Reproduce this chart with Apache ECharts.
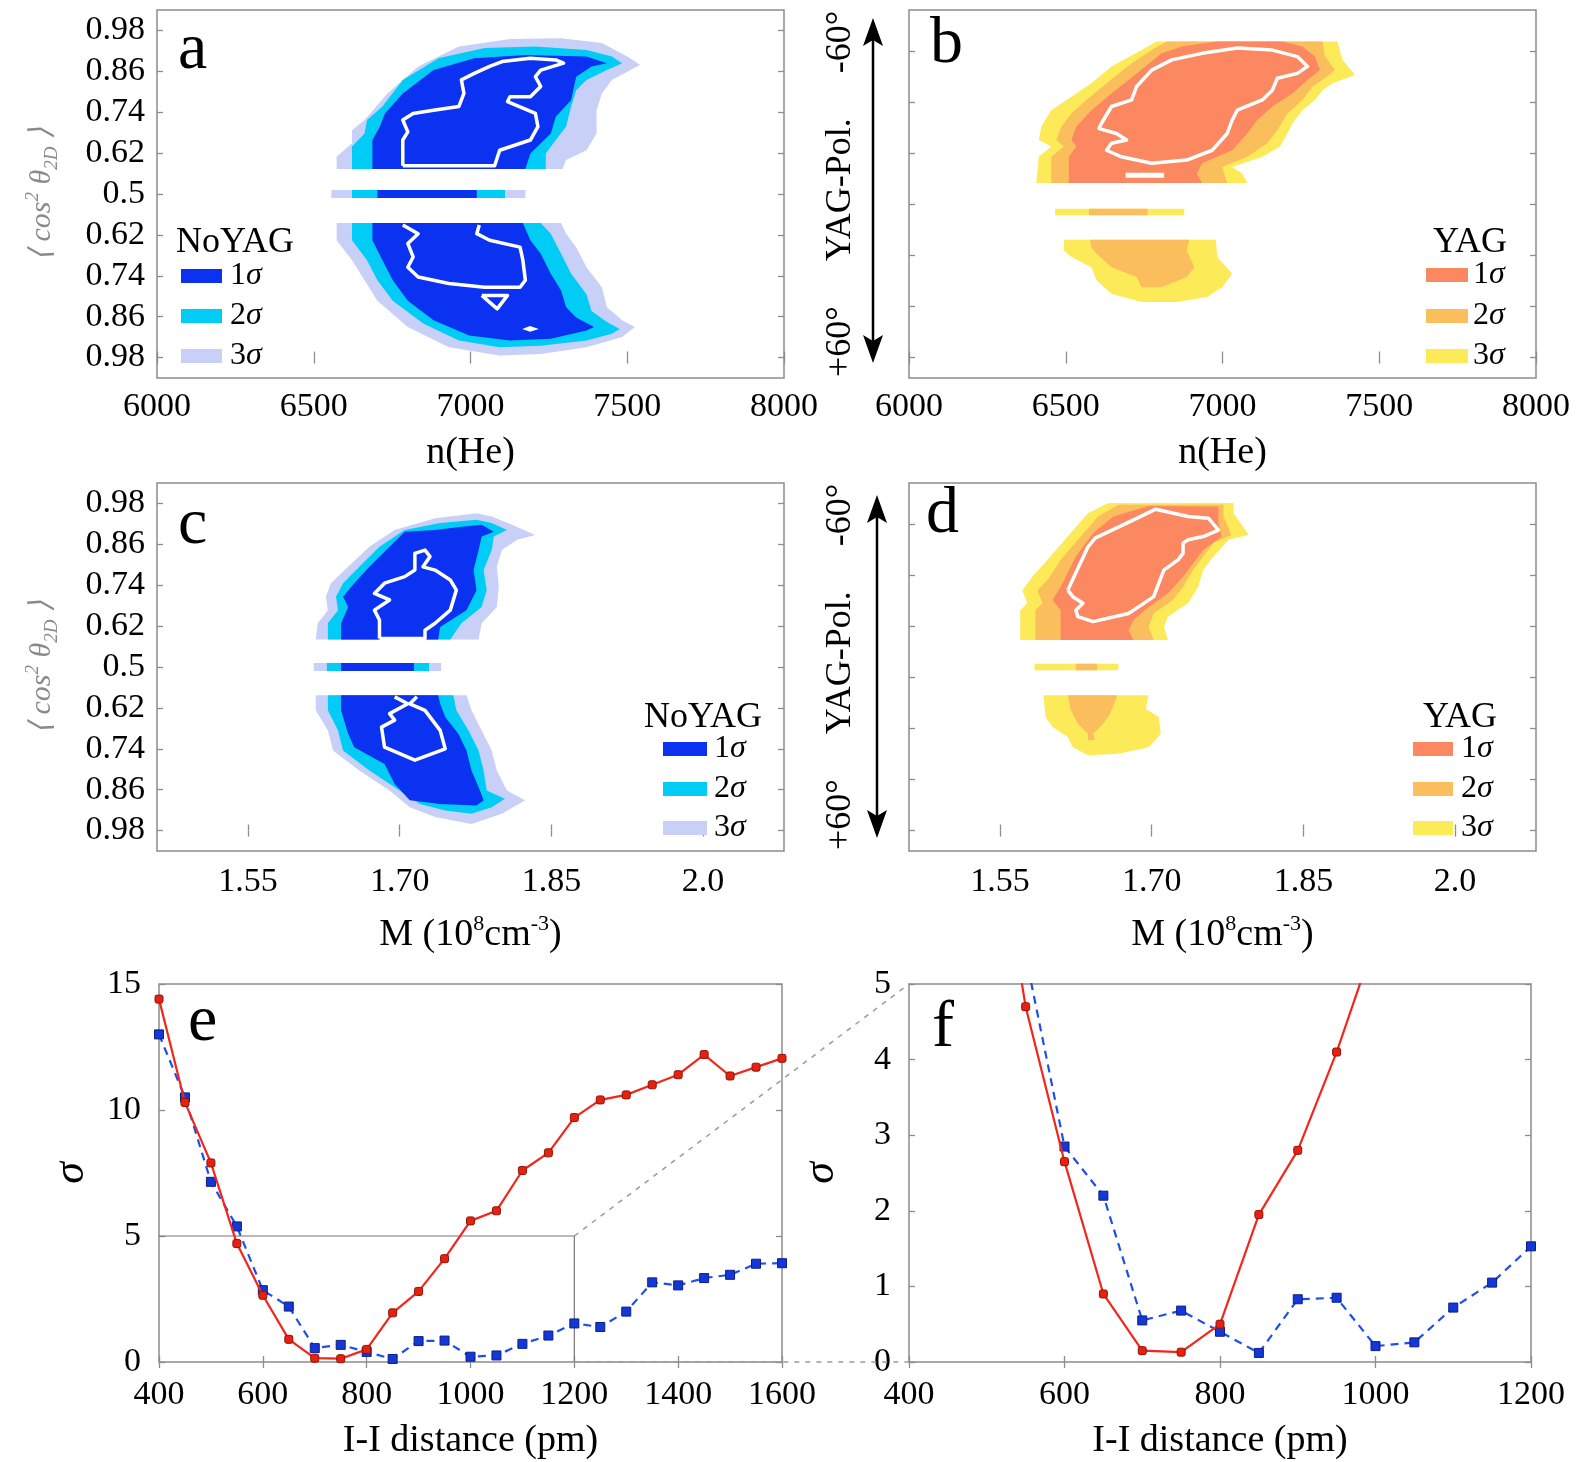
<!DOCTYPE html>
<html>
<head>
<meta charset="utf-8">
<script src="https://cdn.jsdelivr.net/npm/echarts@6/dist/echarts.min.js"></script>
<style>
html,body{margin:0;padding:0;background:#fff}
#main{width:1578px;height:1462px}
</style>
</head>
<body>
<div id="main"></div>
<script>
// ---------- data ----------
// alignment axis: 0 = bottom 0.98 ... 4 = 0.5 ... 8 = top 0.98
var alignTicks = [0, 1, 2, 3, 4, 5, 6, 7, 8];
var alignLabels = ['0.98', '0.86', '0.74', '0.62', '0.5', '0.62', '0.74', '0.86', '0.98'];
var yagTicks = [0, 1.25, 2.5, 3.75, 5, 6.25, 7.5];
var mTicks = [1.55, 1.70, 1.85, 2.0];
var mLabels = ['1.55', '1.70', '1.85', '2.0'];

// panel a : NoYAG vs n(He)   (polygons = [n, alignment])
var aSigma3 = [
  [[6573,4.61],[6573,4.91],[6622,5.24],[6622,5.56],[6662,5.81],[6735,6.46],[6833,7.12],[6963,7.61],[7126,7.79],[7289,7.81],[7419,7.69],[7500,7.36],[7541,7.16],[7500,6.99],[7451,6.79],[7419,6.46],[7402,6.05],[7402,5.48],[7370,5.07],[7305,4.83],[7293,4.61]],
  [[6556,3.9],[7175,3.9],[7175,4.1],[6556,4.1]],
  [[6573,3.29],[6573,2.87],[6622,2.38],[6662,1.89],[6703,1.39],[6800,0.75],[6931,0.25],[7093,0.05],[7224,0.09],[7370,0.25],[7484,0.50],[7524,0.75],[7484,0.91],[7435,1.23],[7419,1.72],[7370,2.21],[7337,2.70],[7305,3.03],[7289,3.29]]
];
var aSigma2 = [
  [[6622,4.61],[6622,5.16],[6662,5.48],[6670,5.81],[6719,6.14],[6784,6.79],[6898,7.32],[7045,7.57],[7207,7.61],[7370,7.52],[7451,7.36],[7484,7.20],[7435,7.03],[7370,6.79],[7337,6.54],[7321,6.14],[7305,5.65],[7272,5.32],[7240,4.99],[7240,4.61]],
  [[6622,3.9],[7110,3.9],[7110,4.1],[6622,4.1]],
  [[6622,3.29],[6622,2.87],[6670,2.38],[6703,1.89],[6752,1.39],[6849,0.83],[6963,0.42],[7093,0.25],[7224,0.29],[7370,0.42],[7451,0.58],[7476,0.70],[7435,0.87],[7386,1.14],[7370,1.55],[7321,2.05],[7289,2.54],[7256,3.03],[7224,3.29]]
];
var aSigma1 = [
  [[6687,4.61],[6687,5.32],[6711,5.65],[6727,5.97],[6784,6.46],[6882,7.03],[7012,7.32],[7175,7.40],[7370,7.36],[7435,7.20],[7386,7.12],[7337,6.87],[7321,6.30],[7272,5.89],[7256,5.48],[7191,4.99],[7175,4.61]],
  [[6703,3.9],[7020,3.9],[7020,4.1],[6703,4.1]],
  [[6687,3.29],[6687,2.87],[6719,2.38],[6752,1.89],[6800,1.39],[6882,0.91],[6996,0.54],[7126,0.42],[7256,0.46],[7370,0.66],[7394,0.75],[7337,0.98],[7305,1.23],[7289,1.64],[7256,2.05],[7224,2.54],[7191,2.87],[7167,3.29]]
];
var aContour = [
  [[6784,4.69],[6784,5.32],[6800,5.52],[6784,5.81],[6817,5.97],[6882,6.05],[6963,6.14],[6979,6.46],[6971,6.79],[7012,6.95],[7061,7.12],[7101,7.24],[7191,7.32],[7272,7.28],[7297,7.20],[7224,7.03],[7207,6.87],[7224,6.63],[7191,6.38],[7126,6.38],[7118,6.26],[7207,5.97],[7215,5.65],[7191,5.32],[7093,5.07],[7077,4.69],[6784,4.69]],
  [[6784,3.24],[6833,3.03],[6800,2.79],[6817,2.46],[6800,2.21],[6833,1.97],[6931,1.81],[7045,1.72],[7158,1.72],[7175,1.89],[7167,2.38],[7158,2.70],[7061,2.87],[7020,3.03],[7028,3.24]],
  [[7036,1.52],[7118,1.52],[7085,1.19],[7036,1.52]]
];
var aSpots = [[[7165,0.70],[7190,0.77],[7218,0.70],[7190,0.63]]];

// panel b : YAG vs n(He)
var bSigma3 = [
  [[6406,4.27],[6414,4.91],[6454,5.16],[6414,5.32],[6422,5.65],[6454,6.05],[6518,6.38],[6582,6.71],[6646,7.12],[6742,7.52],[6790,7.73],[7367,7.73],[7383,7.28],[7423,6.91],[7351,6.71],[7319,6.54],[7295,6.30],[7255,6.05],[7223,5.73],[7207,5.48],[7183,5.16],[7127,4.91],[7031,4.66],[7063,4.50],[7079,4.27]],
  [[6466,3.48],[6878,3.48],[6878,3.64],[6466,3.64]],
  [[6494,2.88],[6979,2.88],[6983,2.46],[7031,2.05],[6999,1.72],[6951,1.48],[6854,1.36],[6742,1.36],[6646,1.56],[6598,1.89],[6582,2.21],[6518,2.46],[6494,2.62]]
];
var bSigma2 = [
  [[6454,4.27],[6454,4.91],[6494,5.16],[6470,5.32],[6486,5.65],[6518,5.97],[6566,6.30],[6630,6.71],[6710,7.20],[6774,7.52],[6822,7.73],[7319,7.73],[7327,7.36],[7359,7.03],[7319,6.79],[7287,6.63],[7255,6.30],[7207,5.97],[7175,5.56],[7143,5.24],[7079,4.91],[6999,4.66],[7015,4.27]],
  [[6574,3.48],[6761,3.48],[6761,3.64],[6574,3.64]],
  [[6577,2.88],[6894,2.88],[6886,2.62],[6910,2.21],[6886,1.97],[6806,1.72],[6742,1.72],[6726,1.97],[6646,2.21],[6598,2.54],[6582,2.70]]
];
var bSigma1 = [
  [[6510,4.27],[6510,4.91],[6534,5.16],[6518,5.32],[6534,5.65],[6582,6.05],[6646,6.46],[6726,6.95],[6806,7.44],[6870,7.61],[6983,7.73],[7191,7.73],[7255,7.61],[7295,7.36],[7311,7.03],[7271,6.79],[7223,6.46],[7159,6.14],[7111,5.81],[7079,5.48],[7031,5.07],[6935,4.75],[6918,4.50],[6935,4.27]]
];
var bContour = [
  [[6614,5.73],[6646,6.14],[6710,6.30],[6726,6.63],[6774,7.03],[6838,7.28],[6935,7.44],[7047,7.57],[7159,7.52],[7239,7.36],[7271,7.12],[7239,6.95],[7175,6.83],[7159,6.54],[7127,6.30],[7047,6.05],[7031,5.81],[7015,5.48],[6967,5.07],[6886,4.83],[6774,4.75],[6678,4.91],[6630,5.07],[6646,5.24],[6694,5.32],[6662,5.48],[6606,5.60],[6614,5.73]]
];
var bSpots = [[[6691,4.40],[6814,4.40],[6814,4.52],[6691,4.52]]];

// panel c : NoYAG vs M
var cSigma3 = [
  [[1.617,4.67],[1.619,5.07],[1.629,5.39],[1.627,5.72],[1.632,6.05],[1.649,6.45],[1.670,6.94],[1.695,7.35],[1.735,7.64],[1.776,7.76],[1.791,7.68],[1.811,7.48],[1.834,7.23],[1.816,7.11],[1.801,6.86],[1.796,6.45],[1.798,5.96],[1.796,5.47],[1.781,5.07],[1.778,4.67]],
  [[1.615,3.9],[1.741,3.9],[1.741,4.1],[1.615,4.1]],
  [[1.617,3.31],[1.617,2.94],[1.629,2.45],[1.634,1.96],[1.660,1.47],[1.690,0.98],[1.710,0.57],[1.735,0.33],[1.771,0.16],[1.801,0.41],[1.824,0.74],[1.806,0.98],[1.796,1.47],[1.791,1.96],[1.781,2.45],[1.771,2.94],[1.766,3.31]]
];
var cSigma2 = [
  [[1.629,4.67],[1.629,5.07],[1.639,5.39],[1.637,5.72],[1.644,6.05],[1.660,6.45],[1.680,6.94],[1.705,7.35],[1.740,7.52],[1.776,7.60],[1.791,7.52],[1.806,7.35],[1.793,7.19],[1.791,6.86],[1.783,6.37],[1.786,5.88],[1.781,5.47],[1.761,5.07],[1.750,4.67]],
  [[1.628,3.9],[1.729,3.9],[1.729,4.1],[1.628,4.1]],
  [[1.629,3.31],[1.629,2.94],[1.639,2.45],[1.644,1.96],[1.670,1.47],[1.700,0.98],[1.720,0.65],[1.745,0.49],[1.771,0.41],[1.791,0.57],[1.804,0.78],[1.786,0.98],[1.783,1.47],[1.778,1.96],[1.768,2.45],[1.756,2.94],[1.753,3.31]]
];
var cSigma1 = [
  [[1.642,4.67],[1.642,5.07],[1.649,5.47],[1.644,5.72],[1.655,6.05],[1.670,6.45],[1.690,6.94],[1.705,7.31],[1.735,7.35],[1.761,7.43],[1.781,7.48],[1.793,7.31],[1.781,7.19],[1.778,6.86],[1.773,6.37],[1.776,5.88],[1.766,5.39],[1.740,4.98],[1.738,4.67]],
  [[1.642,3.9],[1.714,3.9],[1.714,4.1],[1.642,4.1]],
  [[1.642,3.31],[1.642,2.94],[1.649,2.37],[1.655,2.04],[1.685,1.63],[1.695,1.14],[1.710,0.74],[1.740,0.65],[1.776,0.61],[1.783,0.74],[1.778,1.06],[1.771,1.47],[1.766,1.96],[1.758,2.37],[1.745,2.78],[1.740,3.10],[1.738,3.31]]
];
var cContour = [
  [[1.680,4.70],[1.680,5.15],[1.675,5.39],[1.690,5.64],[1.675,5.80],[1.685,6.05],[1.705,6.21],[1.715,6.37],[1.715,6.78],[1.725,6.86],[1.730,6.70],[1.723,6.45],[1.735,6.37],[1.750,6.13],[1.756,5.88],[1.750,5.39],[1.735,5.07],[1.725,4.90],[1.725,4.70],[1.680,4.70]],
  [[1.695,3.27],[1.708,3.10],[1.690,2.86],[1.695,2.70],[1.682,2.53],[1.685,2.04],[1.715,1.72],[1.745,2.00],[1.740,2.45],[1.725,2.94],[1.710,3.10],[1.717,3.27]]
];

// panel d : YAG vs M
var dSigma3 = [
  [[1.570,4.66],[1.570,5.39],[1.577,5.56],[1.572,5.88],[1.582,6.21],[1.597,6.62],[1.617,7.19],[1.637,7.76],[1.657,8.01],[1.781,8.01],[1.781,7.76],[1.796,7.23],[1.776,7.11],[1.761,6.70],[1.751,6.37],[1.746,5.96],[1.736,5.56],[1.716,5.23],[1.712,4.98],[1.716,4.66]],
  [[1.584,3.92],[1.667,3.92],[1.667,4.08],[1.584,4.08]],
  [[1.593,3.31],[1.697,3.31],[1.694,2.98],[1.707,2.78],[1.709,2.37],[1.697,2.04],[1.667,1.88],[1.637,1.84],[1.622,2.04],[1.617,2.29],[1.602,2.53],[1.595,2.78]]
];
var dSigma2 = [
  [[1.585,4.66],[1.585,5.39],[1.592,5.56],[1.587,5.88],[1.597,6.13],[1.610,6.62],[1.627,7.11],[1.647,7.68],[1.667,7.97],[1.771,7.97],[1.771,7.68],[1.779,7.23],[1.761,7.03],[1.751,6.70],[1.741,6.37],[1.731,5.96],[1.721,5.64],[1.702,5.31],[1.697,4.98],[1.702,4.66]],
  [[1.625,3.92],[1.646,3.92],[1.646,4.08],[1.625,4.08]],
  [[1.617,3.31],[1.666,3.31],[1.659,2.86],[1.652,2.61],[1.642,2.37],[1.644,2.21],[1.637,2.21],[1.637,2.37],[1.627,2.61],[1.620,2.94]]
];
var dSigma1 = [
  [[1.610,4.66],[1.610,5.39],[1.602,5.64],[1.610,5.96],[1.615,6.21],[1.625,6.70],[1.642,7.27],[1.662,7.68],[1.697,7.94],[1.766,7.92],[1.766,7.52],[1.769,7.19],[1.751,6.86],[1.741,6.54],[1.731,6.21],[1.716,5.80],[1.697,5.47],[1.682,5.15],[1.677,4.90],[1.682,4.66]]
];
var dContour = [
  [[1.617,5.88],[1.637,6.94],[1.644,7.15],[1.682,7.60],[1.704,7.86],[1.736,7.68],[1.756,7.64],[1.766,7.35],[1.751,7.19],[1.736,7.11],[1.731,7.03],[1.731,6.78],[1.726,6.62],[1.712,6.37],[1.707,6.05],[1.702,5.72],[1.687,5.47],[1.677,5.31],[1.642,5.11],[1.627,5.23],[1.625,5.39],[1.632,5.56],[1.622,5.72],[1.617,5.88]]
];

// panels e, f : sigma vs I-I distance
var distance = [400,450,500,550,600,650,700,750,800,850,900,950,1000,1050,1100,1150,1200,1250,1300,1350,1400,1450,1500,1550,1600];
var sigmaYag = [14.4,10.3,7.9,4.7,2.65,0.9,0.15,0.13,0.5,1.95,2.8,4.1,5.6,6.0,7.6,8.3,9.7,10.4,10.6,11.0,11.4,12.2,11.35,11.7,12.05];
var sigmaNoYag = [13.0,10.5,7.15,5.38,2.85,2.2,0.55,0.68,0.4,0.12,0.83,0.85,0.21,0.26,0.72,1.05,1.53,1.39,2.0,3.16,3.04,3.33,3.46,3.9,3.92];
var boxX = [400, 1200, 1200];
var boxY = [5, 5, 0];

// ---------- styling ----------
var SERIF = 'Liberation Serif';
var NOYAG = ['#0a32f0', '#00ccf6', '#c8d0f7'];
var YAG = ['#fc8862', '#fbbe5c', '#fdea58'];
var FRAME = '#8c8c8c';

var chart = echarts.init(document.getElementById('main'));

var gridBoxes = [
  {left: 157, top: 10, width: 627, height: 368},
  {left: 909, top: 10, width: 627, height: 368},
  {left: 157, top: 483, width: 627, height: 368},
  {left: 909, top: 483, width: 627, height: 368},
  {left: 159, top: 984, width: 623, height: 378},
  {left: 909, top: 984, width: 622, height: 378}
];
var grids = gridBoxes.map(function (g) {
  return Object.assign({show: true, borderColor: FRAME, borderWidth: 1.5, backgroundColor: 'transparent', containLabel: false, outerBoundsMode: 'none'}, g);
});

function tickOpt(values) {
  var t = {show: true, inside: true, length: 6, lineStyle: {color: FRAME, width: 1.3}};
  if (values) t.customValues = values;
  return t;
}
function plain(v) { return String(v); }
function labelOpt(extra) {
  return Object.assign({fontFamily: SERIF, fontSize: 34, color: '#000', formatter: plain}, extra);
}

var xAxes = [], yAxes = [];
function addX(gi, min, max, interval, ticks, label, name, nameGap, nameStyle) {
  var common = {gridIndex: gi, type: 'value', min: min, max: max, axisLine: {show: false}, splitLine: {show: false}};
  if (interval) common.interval = interval;
  xAxes.push(Object.assign({}, common, {
    position: 'bottom', axisTick: tickOpt(ticks), axisLabel: label,
    name: name, nameLocation: 'middle', nameGap: nameGap, nameTextStyle: nameStyle
  }));
  xAxes.push(Object.assign({}, common, {position: 'top', axisTick: tickOpt(ticks), axisLabel: {show: false}}));
}
function addY(gi, min, max, interval, ticks, label, name, nameGap, nameStyle) {
  var common = {gridIndex: gi, type: 'value', min: min, max: max, axisLine: {show: false}, splitLine: {show: false}};
  if (interval) common.interval = interval;
  yAxes.push(Object.assign({}, common, {
    position: 'left', axisTick: tickOpt(ticks), axisLabel: label,
    name: name, nameLocation: 'middle', nameGap: nameGap, nameRotate: 90, nameTextStyle: nameStyle
  }));
  yAxes.push(Object.assign({}, common, {position: 'right', axisTick: tickOpt(ticks), axisLabel: {show: false}}));
}

var nameBig = {fontFamily: SERIF, fontSize: 38, color: '#000'};
var mName = '{t|M (10}{s|8}{t|cm}{s|-3}{t|)}';
var mNameStyle = {fontFamily: SERIF, fontSize: 38, color: '#000', rich: {
  t: {fontFamily: SERIF, fontSize: 38, color: '#000', lineHeight: 44},
  s: {fontFamily: SERIF, fontSize: 22, color: '#000', verticalAlign: 'top', lineHeight: 26}
}};
var cosName = '{a|\u27e8 cos}{s|2}{a| \u03b8}{b|2D}{a| \u27e9}';
var cosStyle = {fontFamily: SERIF, fontSize: 30, color: '#8a8a8a', rich: {
  a: {fontFamily: SERIF, fontSize: 30, fontStyle: 'italic', color: '#8a8a8a', lineHeight: 38},
  s: {fontFamily: SERIF, fontSize: 19, fontStyle: 'italic', color: '#8a8a8a', verticalAlign: 'top', lineHeight: 20},
  b: {fontFamily: SERIF, fontSize: 19, fontStyle: 'italic', color: '#8a8a8a', verticalAlign: 'bottom', lineHeight: 20}
}};
var polName = '+60\u00b0     YAG-Pol.     -60\u00b0';
var polStyle = {fontFamily: SERIF, fontSize: 36, color: '#000'};
var sigmaStyle = {fontFamily: SERIF, fontSize: 44, fontStyle: 'italic', color: '#000'};

var alignLabel = labelOpt({margin: 12, customValues: alignTicks, formatter: function (v) { return alignLabels[Math.round(v)]; }});
var mLabel = labelOpt({margin: 14, customValues: mTicks, formatter: function (v) {
  var i = 0; mTicks.forEach(function (t, k) { if (Math.abs(t - v) < 1e-6) i = k; }); return mLabels[i];
}});

// a
addX(0, 6000, 8000, 500, null, labelOpt({margin: 12}), 'n(He)', 56, nameBig);
addY(0, -0.5, 8.5, null, alignTicks, alignLabel, cosName, 96, cosStyle);
// b
addX(1, 6000, 8000, 500, null, labelOpt({margin: 12}), 'n(He)', 56, nameBig);
addY(1, -0.5, 8.5, null, yagTicks, {show: false}, polName, 50, polStyle);
// c
addX(2, 1.46, 2.08, null, mTicks, mLabel, mName, 62, mNameStyle);
addY(2, -0.5, 8.5, null, alignTicks, alignLabel, cosName, 96, cosStyle);
// d
addX(3, 1.46, 2.08, null, mTicks, mLabel, mName, 62, mNameStyle);
addY(3, -0.5, 8.5, null, yagTicks, {show: false}, polName, 50, polStyle);
// e
addX(4, 400, 1600, 200, null, labelOpt({margin: 16}), 'I-I distance (pm)', 60, nameBig);
addY(4, 0, 15, 5, null, labelOpt({margin: 18}), '\u03c3', 66, sigmaStyle);
// f
addX(5, 400, 1200, 200, null, labelOpt({margin: 16}), 'I-I distance (pm)', 60, nameBig);
addY(5, 0, 5, 1, null, labelOpt({margin: 18}), '\u03c3', 66, sigmaStyle);

// ---------- series ----------
function areaSeries(gi, polys, color) {
  return {
    type: 'custom', xAxisIndex: gi * 2, yAxisIndex: gi * 2, clip: true, silent: true, z: 2,
    data: polys.map(function (p) { return p[0]; }),
    renderItem: function (params, api) {
      var pts = polys[params.dataIndex].map(function (pt) { return api.coord(pt); });
      return {type: 'polygon', shape: {points: pts}, style: {fill: color}};
    }
  };
}
function contourSeries(gi, lines) {
  return {
    type: 'custom', xAxisIndex: gi * 2, yAxisIndex: gi * 2, clip: true, silent: true, z: 3,
    data: lines.map(function (p) { return p[0]; }),
    renderItem: function (params, api) {
      var pts = lines[params.dataIndex].map(function (pt) { return api.coord(pt); });
      return {type: 'polyline', shape: {points: pts}, style: {fill: null, stroke: '#fff', lineWidth: 3.5, lineJoin: 'round'}};
    }
  };
}

var series = [];
function panel(gi, s3, s2, s1, cont, spots, colors) {
  series.push(areaSeries(gi, s3, colors[2]));
  series.push(areaSeries(gi, s2, colors[1]));
  series.push(areaSeries(gi, s1, colors[0]));
  if (cont) series.push(contourSeries(gi, cont));
  if (spots) series.push(areaSeries(gi, spots, '#fff'));
}
panel(0, aSigma3, aSigma2, aSigma1, aContour, aSpots, NOYAG);
panel(1, bSigma3, bSigma2, bSigma1, bContour, bSpots, YAG);
panel(2, cSigma3, cSigma2, cSigma1, cContour, null, NOYAG);
panel(3, dSigma3, dSigma2, dSigma1, dContour, null, YAG);

function pairs(xs, ys) { return xs.map(function (x, i) { return [x, ys[i]]; }); }
[4, 5].forEach(function (gi) {
  if (gi === 4) {
    series.push({type: 'line', xAxisIndex: 8, yAxisIndex: 8, data: pairs(boxX, boxY), symbol: 'none', silent: true, z: 1,
      lineStyle: {color: '#777', width: 1.2}});
  }
  series.push({type: 'line', name: 'NoYAG', xAxisIndex: gi * 2, yAxisIndex: gi * 2, data: pairs(distance, sigmaNoYag),
    symbol: 'rect', symbolSize: 9, z: 3,
    lineStyle: {color: '#1f4fe8', width: 2.2, type: [8, 6]},
    itemStyle: {color: '#1438d8', borderColor: '#0b1f80', borderWidth: 1}});
  series.push({type: 'line', name: 'YAG', xAxisIndex: gi * 2, yAxisIndex: gi * 2, data: pairs(distance, sigmaYag),
    symbol: 'roundRect', symbolSize: 8, z: 4,
    lineStyle: {color: '#f2261b', width: 2.2},
    itemStyle: {color: '#e8210f', borderColor: '#8a1408', borderWidth: 1}});
});

// ---------- graphics: panel letters, legends, arrows ----------
var graphics = [];
function letter(id, ch, x, y) {
  graphics.push({type: 'text', id: id, left: x, top: y, z: 10,
    style: {text: ch, fontFamily: SERIF, fontSize: 66, fill: '#000'}});
}
letter('la', 'a', 178, 18);
letter('lb', 'b', 930, 12);
letter('lc', 'c', 178, 493);
letter('ld', 'd', 926, 482);
letter('le', 'e', 188, 990);
letter('lf', 'f', 932, 996);

function legend(id, title, titleX, titleY, colors, rectX, rectW, textX, rows) {
  graphics.push({type: 'text', id: id + 't', x: titleX, y: titleY, z: 10,
    style: {text: title, fontFamily: SERIF, fontSize: 36, fill: '#000', align: 'center', verticalAlign: 'middle'}});
  rows.forEach(function (ry, i) {
    graphics.push({type: 'rect', id: id + 'r' + i, z: 10, shape: {x: rectX, y: ry - 7, width: rectW, height: 14},
      style: {fill: colors[i]}});
    graphics.push({type: 'text', id: id + 's' + i, x: textX, y: ry, z: 10,
      style: {text: '{n|' + (i + 1) + '}{g|\u03c3}', verticalAlign: 'middle', rich: {
        n: {fontFamily: SERIF, fontSize: 32, fill: '#000', color: '#000'},
        g: {fontFamily: SERIF, fontSize: 32, fontStyle: 'italic', fill: '#000', color: '#000'}
      }}});
  });
}
legend('ga', 'NoYAG', 235, 243, NOYAG, 181, 41, 230, [276, 316, 356]);
legend('gb', 'YAG', 1470, 243, YAG, 1426, 42, 1473, [275, 316, 356]);
legend('gc', 'NoYAG', 703, 718, NOYAG, 663, 44, 714, [749, 789, 828]);
legend('gd', 'YAG', 1460, 718, YAG, 1413, 40, 1461, [749, 789, 828]);

function arrow(id, x, y1, y2) {
  graphics.push({type: 'line', id: id + 'l', z: 10, shape: {x1: x, y1: y1 + 20, x2: x, y2: y2 - 20},
    style: {stroke: '#000', lineWidth: 2.5}});
  graphics.push({type: 'polygon', id: id + 'u', z: 10, shape: {points: [[x, y1], [x - 10, y1 + 28], [x, y1 + 22], [x + 10, y1 + 28]]},
    style: {fill: '#000'}});
  graphics.push({type: 'polygon', id: id + 'd', z: 10, shape: {points: [[x, y2], [x - 10, y2 - 28], [x, y2 - 22], [x + 10, y2 - 28]]},
    style: {fill: '#000'}});
}
arrow('ab', 873, 18, 363);
arrow('ad', 877, 495, 838);

chart.setOption({
  animation: false,
  backgroundColor: '#fff',
  grid: grids,
  xAxis: xAxes,
  yAxis: yAxes,
  series: series,
  graphic: graphics
});

// dashed connectors from the zoom box in e to panel f
var e0 = [chart.convertToPixel({xAxisIndex: 8}, boxX[1]), chart.convertToPixel({yAxisIndex: 8}, boxY[0])];
var e1 = [chart.convertToPixel({xAxisIndex: 8}, boxX[2]), chart.convertToPixel({yAxisIndex: 8}, boxY[2])];
var f0 = [chart.convertToPixel({xAxisIndex: 10}, 400), chart.convertToPixel({yAxisIndex: 10}, boxY[0])];
var f1 = [chart.convertToPixel({xAxisIndex: 10}, 400), chart.convertToPixel({yAxisIndex: 10}, boxY[2])];
chart.setOption({
  graphic: [
    {type: 'line', id: 'conn1', z: 9, shape: {x1: e0[0], y1: e0[1], x2: f0[0], y2: f0[1]},
      style: {stroke: '#9a9a9a', lineWidth: 1.5, lineDash: [5, 6]}},
    {type: 'line', id: 'conn2', z: 9, shape: {x1: e1[0], y1: e1[1], x2: f1[0], y2: f1[1]},
      style: {stroke: '#9a9a9a', lineWidth: 1.5, lineDash: [5, 6]}}
  ]
});
</script>
</body>
</html>
